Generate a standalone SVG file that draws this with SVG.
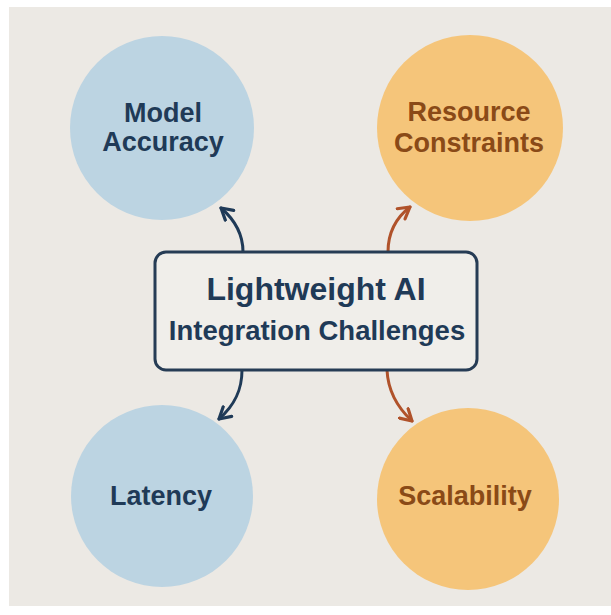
<svg xmlns="http://www.w3.org/2000/svg" width="611" height="615" viewBox="0 0 611 615">
<defs>
<style>
.lbl{font-family:"Liberation Sans",Arial,sans-serif;font-weight:bold;text-anchor:middle}
.blueT{fill:#1F3A57}
.orT{fill:#8A4A17}
.conn{fill:none;stroke-width:3;stroke-linecap:round}
</style>
<marker id="mb" viewBox="0 0 10 10" refX="8" refY="5" markerWidth="16" markerHeight="16" markerUnits="userSpaceOnUse" orient="auto">
<path d="M1,1 L8,5 L1,9" fill="none" stroke="#1F3A57" stroke-width="2" stroke-linecap="round" stroke-linejoin="round"/>
</marker>
<marker id="mo" viewBox="0 0 10 10" refX="8" refY="5" markerWidth="16" markerHeight="16" markerUnits="userSpaceOnUse" orient="auto">
<path d="M1,1 L8,5 L1,9" fill="none" stroke="#B0522A" stroke-width="2" stroke-linecap="round" stroke-linejoin="round"/>
</marker>
</defs>
<rect x="0" y="0" width="611" height="615" fill="#FFFFFF"/>
<rect x="9" y="7" width="602" height="599" fill="#ECE9E4"/>
<g id="connectors">
<path class="conn" stroke="#1F3A57" d="M243,252 C243,235 235,220 221,208" marker-end="url(#mb)"/>
<path class="conn" stroke="#B0522A" d="M388,252 C388,232 397,217 410,207" marker-end="url(#mo)"/>
<path class="conn" stroke="#1F3A57" d="M242,370 C242,390 235,405 219,419" marker-end="url(#mb)"/>
<path class="conn" stroke="#B0522A" d="M387,370 C388,392 398,408 412,421" marker-end="url(#mo)"/>
</g>
<g id="model-accuracy">
<circle cx="162" cy="128" r="92" fill="#BCD4E2"/>
<text class="lbl blueT" x="163" y="122" font-size="27">Model</text>
<text class="lbl blueT" x="163" y="151" font-size="27">Accuracy</text>
</g>
<g id="resource-constraints">
<circle cx="470" cy="128" r="93" fill="#F5C57A"/>
<text class="lbl orT" x="469" y="121" font-size="27">Resource</text>
<text class="lbl orT" x="469" y="152" font-size="27">Constraints</text>
</g>
<g id="latency">
<circle cx="162" cy="496" r="91" fill="#BCD4E2"/>
<text class="lbl blueT" x="161" y="505" font-size="27">Latency</text>
</g>
<g id="scalability">
<circle cx="468" cy="499" r="91" fill="#F5C57A"/>
<text class="lbl orT" x="465" y="505" font-size="27">Scalability</text>
</g>
<g id="center">
<rect x="155" y="252" width="322" height="118" rx="11" fill="#F0EEEA" stroke="#263C55" stroke-width="3"/>
<text class="lbl blueT" x="316" y="300" font-size="32">Lightweight AI</text>
<text class="lbl blueT" x="317" y="340" font-size="27.5">Integration Challenges</text>
</g>
</svg>
